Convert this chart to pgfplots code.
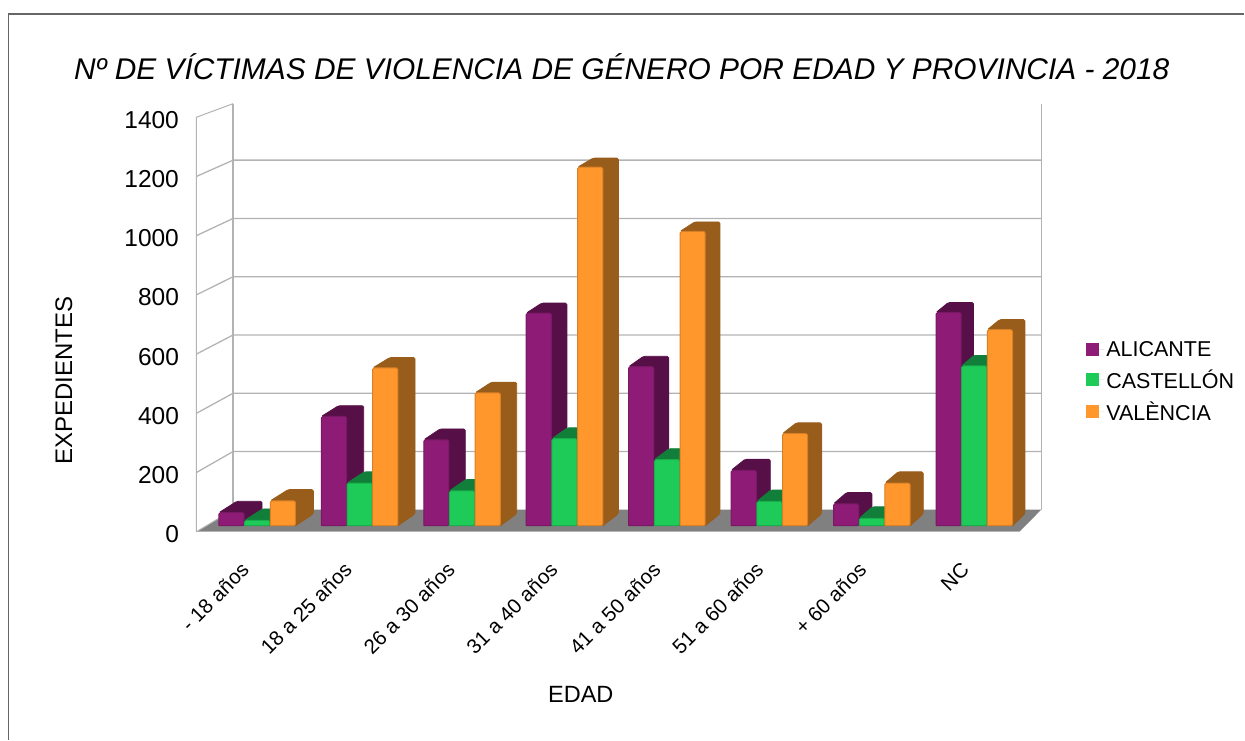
\documentclass[border=0pt]{standalone}
\usepackage{fontspec}
\setmainfont{Liberation Sans}
\usepackage{pgfplots}
\pgfplotsset{compat=1.18}

\definecolor{aliF}{HTML}{8E1C76}
\definecolor{aliS}{HTML}{560F47}
\definecolor{casF}{HTML}{1ECB58}
\definecolor{casS}{HTML}{117E39}
\definecolor{valF}{HTML}{FF972D}
\definecolor{valS}{HTML}{985C1B}
\definecolor{wall}{HTML}{B3B3B3}

% one pseudo-3d bar: group, slot in group, value, front colour, shaded colour
% 1 category = 102.94 px, 1 value unit = 0.2962 px, bars stand 6 px above the front floor edge
\newcommand{\drawbar}[5]{%
  \pgfmathsetmacro\xa{-0.2814+0.9957*#1+0.2497*#2}%
  \pgfmathsetmacro\xb{\xa+0.2448}%
  \pgfmathsetmacro\dep{(18-0.81*#1)/102.94}%
  \pgfmathsetmacro\xc{\xa+\dep}%
  \pgfmathsetmacro\xd{\xb+\dep}%
  \pgfmathsetmacro\yb{20.3}%
  \pgfmathsetmacro\yt{\yb+#3}%
  \pgfmathsetmacro\ybb{\yb+12/0.2962}%
  \pgfmathsetmacro\ytt{\yt+(11.5-0.002*#3)/0.2962}%
  \edef\temp{\noexpand\addplot[forget plot,no markers,fill=#5,draw=#5,line width=0.8pt,rounded corners=1.5pt]
    coordinates {(\xb,\yb) (\xd,\ybb) (\xd,\ytt) (\xc,\ytt) (\xa,\yt) (\xb,\yt) (\xb,\yb)};}\temp
  \edef\temp{\noexpand\addplot[forget plot,no markers,fill=#4,draw=#4!85!black,line width=1pt,rounded corners=1.5pt]
    coordinates {(\xa,\yb) (\xb,\yb) (\xb,\yt) (\xa,\yt) (\xa,\yb)};}\temp
}

\begin{document}
\begin{tikzpicture}
\begin{axis}[
  scale only axis, width=823.5pt, height=414.7pt,
  xmin=-0.5, xmax=7.5, ymin=0, ymax=1400,
  clip=false,
  axis lines*=left,
  axis line style={draw=none},
  major tick length=0pt,
  xtick={0,1,2,3,4,5,6,7},
  xticklabels={- 18 años,18 a 25 años,26 a 30 años,31 a 40 años,41 a 50 años,51 a 60 años,+ 60 años,NC},
  ytick={0,200,400,600,800,1000,1200,1400},
  /pgf/number format/assume math mode=true,
  /pgf/number format/1000 sep={},
  yticklabel style={font=\fontsize{24.5}{28}\selectfont, xshift=-14pt, yshift=-2.5pt},
  xticklabel style={font=\fontsize{20.5}{24}\selectfont, rotate=45, anchor=east, xshift=-23pt, yshift=-22.7pt},
  xlabel={EDAD},
  ylabel={EXPEDIENTES},
  title={Nº DE VÍCTIMAS DE VIOLENCIA DE GÉNERO POR EDAD Y PROVINCIA - 2018},
  every axis x label/.style={at={(rel axis cs:0.467,-0.393)},anchor=center,font=\fontsize{23.5}{27}\selectfont},
  every axis y label/.style={at={(rel axis cs:-0.161,0.364)},anchor=center,rotate=90,font=\fontsize{24}{28}\selectfont},
  every axis title/.style={at={(rel axis cs:0.5167,1.121)},anchor=center,font=\fontsize{29.9}{34}\selectfont\itshape},
  legend image code/.code={\fill[#1] (0pt,-6.5pt) rectangle (13pt,6.5pt); \path (0pt,0pt) -- (18pt,0pt);},
  legend cell align=left,
  legend style={at={(rel axis cs:1.081,0.3625)},anchor=west,draw=none,fill=none,inner sep=0pt,
    font=\fontsize{21.5}{25}\selectfont,row sep=8pt},
]
% floor
\addplot[forget plot,no markers,fill=black!50,draw=none] coordinates {(-0.5,0) (7.5,0) (7.7105,74.3) (-0.1425,74.3) (-0.5,0)};
\addplot[forget plot,no markers,draw=wall,line width=1.2pt] coordinates {(-0.5,0) (7.5,0)};
% walls
\addplot[forget plot,no markers,draw=wall,line width=1pt] coordinates {(-0.5,0) (-0.5,1400) (-0.1425,1446)};
\addplot[forget plot,no markers,draw=wall,line width=1.4pt] coordinates {(-0.1425,74.3) (-0.1425,1446)};
\addplot[forget plot,no markers,draw=wall,line width=1pt] coordinates {(7.7105,74.3) (7.7105,1446)};
\addplot[forget plot,no markers,draw=wall,line width=1pt] coordinates {(-0.5,0) (-0.1425,74.3)};
% back grid, front tick -> back wall -> right end
\foreach \f/\b in {200/271.1,400/467.9,600/664.7,800/861.5,1000/1058.3,1200/1255.1}{
  \edef\temp{\noexpand\addplot[forget plot,no markers,draw=wall,line width=1.3pt]
    coordinates {(-0.5,\f) (-0.1425,\b) (7.7105,\b)};}\temp
}
% bars
\foreach \g/\v in {0/44,1/369,2/290,3/718,4/537,5/187,6/74,7/720}{\drawbar{\g}{0}{\v}{aliF}{aliS}}
\foreach \g/\v in {0/18,1/144,2/118,3/294,4/223,5/82,6/25,7/540}{\drawbar{\g}{1}{\v}{casF}{casS}}
\foreach \g/\v in {0/84,1/533,2/449,3/1211,4/994,5/311,6/144,7/662}{\drawbar{\g}{2}{\v}{valF}{valS}}
% legend
\addlegendimage{fill=aliF,draw=none}\addlegendentry{ALICANTE}
\addlegendimage{fill=casF,draw=none}\addlegendentry{CASTELLÓN}
\addlegendimage{fill=valF,draw=none}\addlegendentry{VALÈNCIA}
\end{axis}
% frame and page size: 1245x740 with the axis origin at px (196.5,532)
\draw[black!60,line width=1.2pt] (-188.2pt,-208pt) -- (-188.2pt,518pt) -- (1048.5pt,518pt);
\path (-196.5pt,-208pt) rectangle (1048.5pt,532pt);
\end{tikzpicture}
\end{document}
